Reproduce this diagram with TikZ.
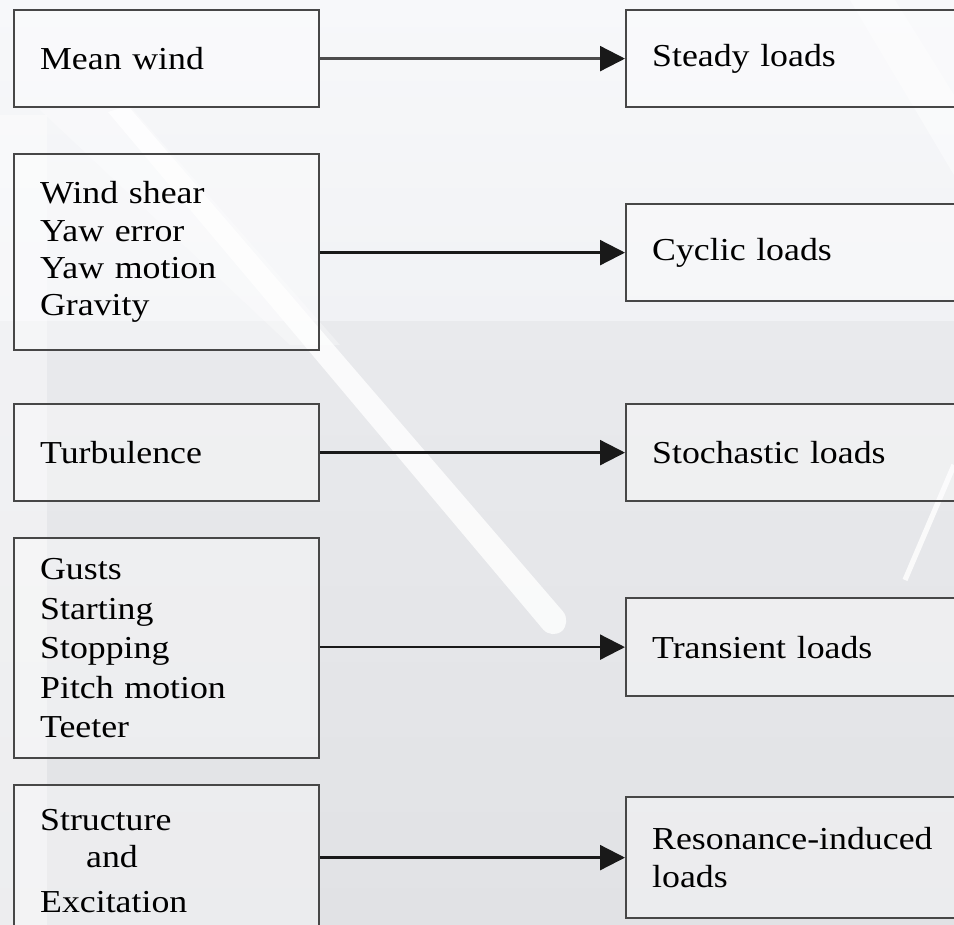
\documentclass[tikz,border=0pt]{standalone}
\usepackage{fontspec}
\setmainfont{Liberation Serif}[FakeStretch=1.12]
\usepackage{tikz}
\usetikzlibrary{arrows.meta, positioning}

\definecolor{skytop}{HTML}{F7F8FA}
\definecolor{skymid}{HTML}{F1F2F5}
\definecolor{sealine}{HTML}{E9EAED}
\definecolor{seabot}{HTML}{E1E2E5}

\tikzset{
  cause/.style={draw=black!72, line width=1.3pt, fill=white, fill opacity=0.35,
    text opacity=1, anchor=north west, inner xsep=0.52cm, inner ysep=0pt,
    text width=5.06cm, align=left, font=\fontsize{18.2}{21.2}\selectfont},
  load/.style={cause, text width=6.12cm},
  flow/.style={-{Triangle[length=0.5cm,width=0.5cm,black!90]}, line width=1.3pt, black!90},
}

\begin{document}
\begin{tikzpicture}[x=0.02cm, y=-0.02cm]
  \useasboundingbox (0,0) rectangle (954,925);
  \clip (0,0) rectangle (954,925);

  % Backdrop (sky and sea)
  \shade[top color=skytop, bottom color=skymid] (0,0) rectangle (954,322);
  \shade[top color=sealine, bottom color=seabot] (0,322) rectangle (954,925);
  \fill[white, opacity=0.4] (0,115) rectangle (47,925);

  % Turbine blades
  \fill[white, opacity=0.3] (40,110) -- (130,106) -- (340,345) -- (290,345) -- cycle;
  \fill[white, opacity=0.8] (108,112) -- (128,106) [rounded corners=8pt]
    -- (572,622) -- (552,640) [sharp corners] -- cycle;
  \fill[white, opacity=0.45] (850,0) -- (895,0) -- (954,95) -- (954,175) -- cycle;
  \draw[white, line width=3pt, opacity=0.8] (954,465) -- (905,580);

  % Causes
  \node[cause, minimum height=1.94cm] (wind) at (13,9) {Mean wind};
  \node[cause, minimum height=3.92cm] (shear) at (13,153)
    {Wind shear\\ Yaw error\\ Yaw motion\\ Gravity};
  \node[cause, minimum height=1.94cm] (turb) at (13,403) {Turbulence};
  \node[cause, minimum height=4.4cm, font=\fontsize{18.2}{22.5}\selectfont] (gusts) at (13,537)
    {Gusts\\ Starting\\ Stopping\\ Pitch motion\\ Teeter};
  \node[cause, minimum height=3.04cm] (struct) at (13,784)
    {Structure\\ \hspace*{0.92cm}and\\[0.16cm] Excitation};

  % Loads
  \node[load, minimum height=1.94cm] (steady) at (625,9) {Steady loads};
  \node[load, minimum height=1.94cm] (cyclic) at (625,203) {Cyclic loads};
  \node[load, minimum height=1.94cm] (stoch) at (625,403) {Stochastic loads};
  \node[load, minimum height=1.96cm] (trans) at (625,597) {Transient loads};
  \node[load, minimum height=2.42cm] (reson) at (625,796)
    {Resonance-induced\\ loads};

  % Arrows
  \draw[flow, black!70] (wind.east) -- (steady.west);
  \draw[flow] (shear.east |- cyclic.west) -- (cyclic.west);
  \draw[flow] (turb.east) -- (stoch.west);
  \draw[flow] (gusts.east |- trans.west) -- (trans.west);
  \draw[flow] (struct.east |- reson.west) -- (reson.west);
\end{tikzpicture}
\end{document}
